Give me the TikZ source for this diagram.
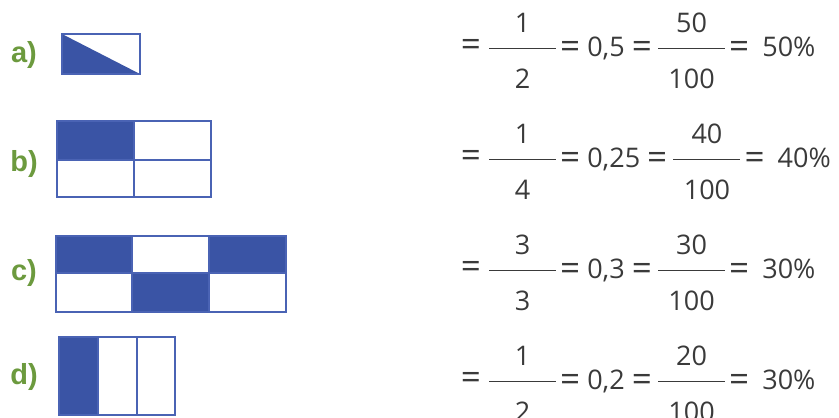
\documentclass[tikz,border=0pt]{standalone}
\usepackage{fontspec}
\setmainfont{Open Sans}
\newfontfamily\labfont{Liberation Sans}
\usetikzlibrary{calc}
\definecolor{fillblue}{HTML}{3A54A5}
\definecolor{lineblue}{HTML}{4A63B4}
\definecolor{labgreen}{HTML}{6C9A3E}
\definecolor{txt}{HTML}{3A3A3A}
\newcommand\eqs{\raisebox{-2.2pt}{\scalebox{1.3}{=}}}
\tikzset{
  shaded/.style={fill=fillblue},
  frame/.style={draw=lineblue, line width=2.6pt},
  lab/.style={font=\labfont\bfseries\fontsize{29}{30}\selectfont, text=labgreen, inner sep=0pt},
  eq/.style={font=\fontsize{27}{30}\selectfont, text=txt, inner sep=0pt},
  fbar/.style={draw=txt, line width=1pt}
}
\newcommand\eqrow[8]{%
  \node[eq] (#8e1) at (471,#1) {\eqs};
  \coordinate (#8b1s) at (489,#1);
  \coordinate (#8b1e) at (556,#1);
  \draw[fbar] (#8b1s) -- (#8b1e);
  \node[eq] (#8n1) at ($(#8b1s)!0.5!(#8b1e)+(0,-25)$) {#2};
  \node[eq] (#8d1) at ($(#8b1s)!0.5!(#8b1e)+(0,31)$) {#3};
  \node[eq, anchor=west] (#8m) at (560,#1) {\eqs\hspace{7pt}#4\hspace{7pt}\eqs};
  \coordinate (#8b2s) at ($(#8m.east)+(6,0)$);
  \coordinate (#8b2e) at ($(#8b2s)+(67,0)$);
  \draw[fbar] (#8b2s) -- (#8b2e);
  \node[eq] (#8n2) at ($(#8b2s)!0.5!(#8b2e)+(0,-25)$) {#5};
  \node[eq] (#8d2) at ($(#8b2s)!0.5!(#8b2e)+(0,31)$) {#6};
  \node[eq, anchor=west] (#8p) at ($(#8b2e)+(4,0)$) {\eqs\hspace{13pt}#7};
}
\begin{document}
\begin{tikzpicture}[x=1pt,y=-1pt]
\useasboundingbox (0,0) rectangle (839,418);
% labels
\node[lab] (la) at (24,55) {a)};
\node[lab] (lb) at (24,164) {b)};
\node[lab] (lc) at (24,273) {c)};
\node[lab] (ld) at (24,377) {d)};
% a
\fill[shaded] (62,34) -- (62,74) -- (140,74) -- cycle;
\draw[frame] (62,34) rectangle (140,74);
% b
\fill[shaded] (57,121) rectangle (134,160);
\draw[frame] (57,121) rectangle (211,197);
\draw[frame] (57,160) -- (211,160);
\draw[frame] (134,121) -- (134,197);
% c
\fill[shaded] (56,236) rectangle (132,273);
\fill[shaded] (209,236) rectangle (286,273);
\fill[shaded] (132,273) rectangle (209,312);
\draw[frame] (56,236) rectangle (286,312);
\draw[frame] (56,273) -- (286,273);
\draw[frame] (132,236) -- (132,312);
\draw[frame] (209,236) -- (209,312);
% d
\fill[shaded] (59,337) rectangle (98,415);
\draw[frame] (59,337) rectangle (175,415);
\draw[frame] (98,337) -- (98,415);
\draw[frame] (137,337) -- (137,415);
% equations
\eqrow{48}{1}{2}{0,5}{50}{100}{50\%}{a}
\eqrow{159}{1}{4}{0,25}{40}{100}{40\%}{b}
\eqrow{270}{3}{3}{0,3}{30}{100}{30\%}{c}
\eqrow{381}{1}{2}{0,2}{20}{100}{30\%}{d}
\end{tikzpicture}
\end{document}
